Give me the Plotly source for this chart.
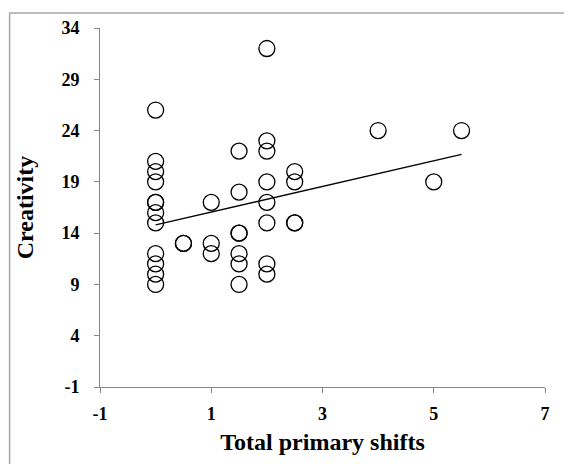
import numpy as np
import plotly.graph_objects as go

# Data (Total primary shifts vs Creativity)
shifts = [0]*12 + [0.5]*2 + [1]*3 + [1.5]*7 + [2]*8 + [2.5]*4 + [4, 5, 5.5]
creativity = [26, 21, 20, 19, 17, 17, 16, 15, 12, 11, 10, 9,
              13, 13,
              17, 13, 12,
              22, 18, 14, 14, 12, 11, 9,
              32, 23, 22, 19, 17, 15, 11, 10,
              20, 19, 15, 15,
              24, 19, 24]
x_ticks = [-1, 1, 3, 5, 7]
y_ticks = [-1, 4, 9, 14, 19, 24, 29, 34]

slope, intercept = np.polyfit(shifts, creativity, 1)
fit_x = [min(shifts), max(shifts)]
fit_y = [slope * v + intercept for v in fit_x]

fig = go.Figure()
fig.add_trace(go.Scatter(
    x=shifts, y=creativity, mode="markers",
    marker=dict(symbol="circle-open", size=16, color="black", line=dict(width=1.3)),
    showlegend=False, hoverinfo="x+y"))
fig.add_trace(go.Scatter(
    x=fit_x, y=fit_y, mode="lines",
    line=dict(color="black", width=1.3), showlegend=False))

axis_font = dict(family="Liberation Serif", size=18, color="black")
title_font = dict(family="Liberation Serif", size=24, color="black")

# plot area: screen x 99.5..545, y 28..387 (page body has 8px offset)
L, T = 91.5, 20
R = 572 - 537
B = 464 - 379
PW = 572 - L - R
PH = 464 - T - B

fig.update_layout(
    width=572, height=464,
    margin=dict(l=L, r=R, t=T, b=B, autoexpand=False),
    paper_bgcolor="white", plot_bgcolor="white",
    font=dict(family="Liberation Serif", color="black"),
    xaxis=dict(
        range=[-1, 7], tickvals=x_ticks, ticktext=[f"<b>{v}</b>" for v in x_ticks],
        showgrid=False, zeroline=False, showline=True, linecolor="#868686", linewidth=1,
        ticks="outside", ticklen=5, tickcolor="#868686", tickfont=axis_font,
        ticklabelstandoff=5,
        title=dict(text="<b>Total primary shifts</b>", font=title_font, standoff=10)),
    yaxis=dict(
        range=[-1, 34], tickvals=y_ticks, ticktext=[f"<b>{v}</b>" for v in y_ticks],
        showgrid=False, zeroline=False, showline=True, linecolor="#868686", linewidth=1,
        ticks="outside", ticklen=5, tickcolor="#868686", tickfont=axis_font,
        ticklabelstandoff=11,
        title=dict(text="<b>Creativity</b>", font=title_font, standoff=21)),
    shapes=[dict(type="rect", xref="paper", yref="paper",
                 x0=(1 - L) / PW, x1=(580 - L) / PW,
                 y0=-(480 - 379) / PH, y1=(379 - 5) / PH,
                 line=dict(color="#a6a6a6", width=1.5), fillcolor="rgba(0,0,0,0)",
                 layer="above")],
)

fig.write_html("out.html")
